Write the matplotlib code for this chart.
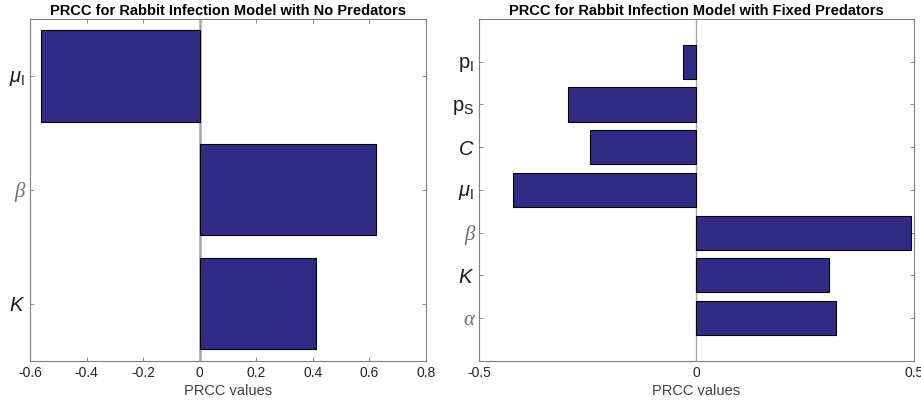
import matplotlib
matplotlib.use("Agg")
import matplotlib.pyplot as plt

# PRCC values (bottom to top, as barh draws them)
labels_nopred = [r"$K$", "β", r"$\mu_{\mathrm{I}}$"]
prcc_nopred = [0.411, 0.622, -0.562]

labels_fixed = ["α", r"$K$", "β", r"$\mu_{\mathrm{I}}$", r"$C$",
                r"p$_{\mathrm{S}}$", r"p$_{\mathrm{I}}$"]
prcc_fixed = [0.322, 0.305, 0.493, -0.423, -0.245, -0.295, -0.032]

bar_color = "#332a86"
axis_grey = "#7f7f7f"

plt.rcParams["font.family"] = ["Liberation Sans", "DejaVu Sans"]
plt.rcParams["mathtext.fontset"] = "custom"
plt.rcParams["mathtext.rm"] = "Liberation Sans"
plt.rcParams["mathtext.it"] = "Liberation Sans:italic"
plt.rcParams["mathtext.bf"] = "Liberation Sans:bold"

fig = plt.figure(figsize=(9.21, 4.09), dpi=100)
ax1 = fig.add_axes([0.0326, 0.118, 0.4299, 0.8355])
ax2 = fig.add_axes([0.5204, 0.118, 0.4716, 0.8355])


def draw(ax, labels, vals, xlim, ylim, xticks, xticklabels, title, zero_lw):
    pos = list(range(1, len(vals) + 1))
    ax.barh(pos, vals, height=0.8, color=bar_color, edgecolor="black",
            linewidth=0.8, zorder=3)
    ax.axvline(0, color="#a6a6a6", lw=zero_lw, zorder=2)
    ax.set_xlim(*xlim)
    ax.set_ylim(*ylim)
    ax.set_xticks(xticks)
    ax.set_xticklabels(xticklabels)
    ax.set_yticks(pos)
    ax.set_yticklabels(labels)
    ax.tick_params(direction="in", length=3, width=0.6, colors=axis_grey,
                   top=True, right=True, labelsize=10, labelcolor="#262626")
    for t in ax.get_yticklabels():
        t.set_fontsize(14.5)
        t.set_color("#1a1a1a")
        if t.get_text() in ("β", "α"):
            t.set_family("Liberation Serif")
            t.set_style("italic")
            t.set_color("#6e6e6e")
            t.set_fontsize(15)
    for s in ax.spines.values():
        s.set_color(axis_grey)
        s.set_linewidth(0.8)
    ax.set_xlabel("PRCC values", fontsize=10.5, color="#404040", labelpad=3)
    ax.set_title(title, fontsize=10.5, fontweight="bold", pad=3)


draw(ax1, labels_nopred, prcc_nopred, (-0.6, 0.8), (0.5, 3.5),
     [-0.6, -0.4, -0.2, 0, 0.2, 0.4, 0.6, 0.8],
     ["-0.6", "-0.4", "-0.2", "0", "0.2", "0.4", "0.6", "0.8"],
     "PRCC for Rabbit Infection Model with No Predators", 1.8)
draw(ax2, labels_fixed, prcc_fixed, (-0.5, 0.5), (0, 8), [-0.5, 0, 0.5],
     ["-0.5", "0", "0.5"],
     "PRCC for Rabbit Infection Model with Fixed Predators", 1.0)

fig.savefig("out.png", dpi=100)
